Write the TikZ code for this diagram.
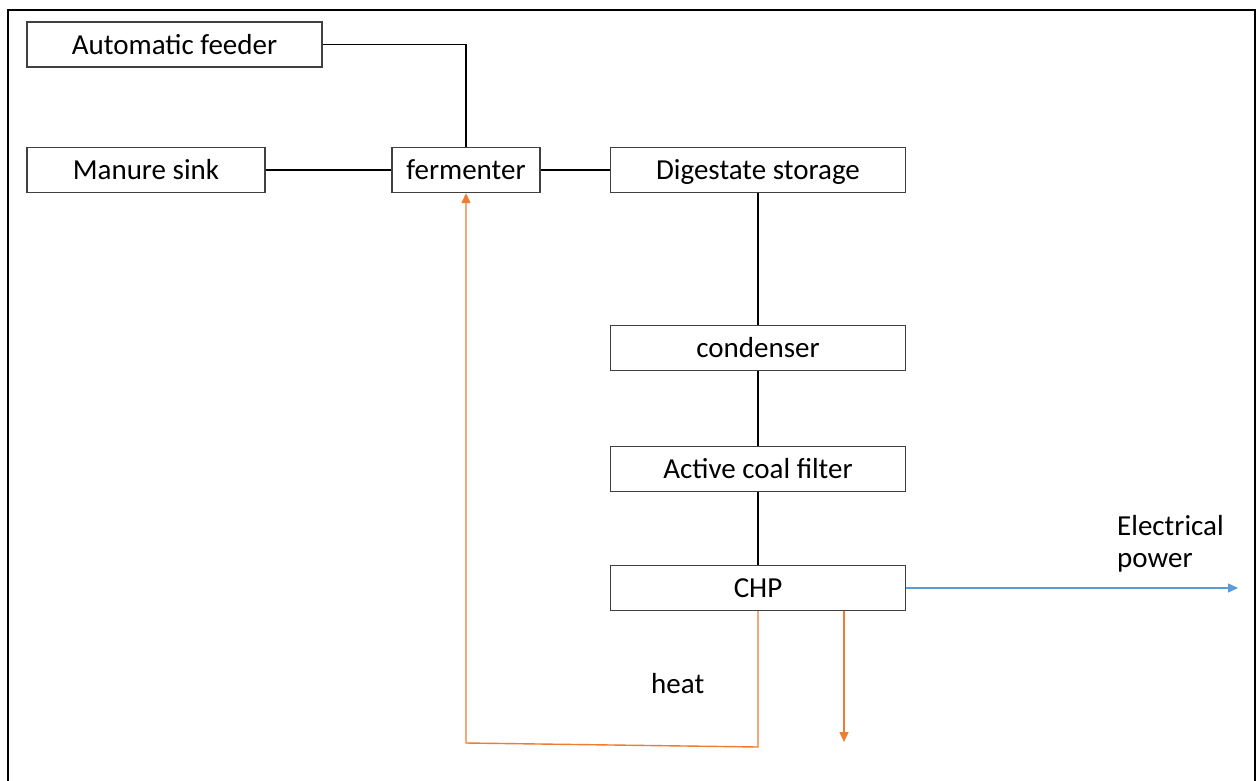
\documentclass[tikz,border=0pt]{standalone}
\usepackage{fontspec}
\setmainfont{Carlito}
\usetikzlibrary{arrows.meta}
\definecolor{boxline}{RGB}{64,64,64}
\definecolor{heatorange}{RGB}{237,125,49}
\definecolor{elecblue}{RGB}{91,155,213}
\tikzset{
  procbox/.style={draw=boxline, line width=1.4pt, fill=white, inner sep=0pt,
    minimum height=45pt, text height=21pt, text depth=2pt,
    font=\fontsize{29}{34}\selectfont, text=black},
  conn/.style={draw=black, line width=1.2pt},
  heatline/.style={draw=heatorange, line width=1.4pt},
  elecline/.style={draw=elecblue, line width=1.4pt},
  tip/.style={-{Triangle[length=10pt,width=9pt]}},
  lbl/.style={inner sep=0pt, font=\fontsize{29}{32}\selectfont, text=black}
}
\begin{document}
\begin{tikzpicture}[x=1pt,y=-1pt]
\useasboundingbox (0,0) rectangle (1258,780);
\fill[white] (0,0) rectangle (1258,780);
% frame
\draw[black, line width=2pt] (8,782) -- (8,10) -- (1255,10) -- (1255,782);
% boxes
\node[procbox, minimum width=295pt] (feeder) at (174.5,44.5) {Automatic feeder};
\node[procbox, minimum width=238pt] (manure) at (146,170) {Manure sink};
\node[procbox, minimum width=148pt] (ferm) at (466,170) {fermenter};
\node[procbox, minimum width=295pt] (dig) at (758,170) {Digestate storage};
\node[procbox, minimum width=295pt] (cond) at (758,348) {condenser};
\node[procbox, minimum width=295pt] (acf) at (758,469) {Active coal filter};
\node[procbox, minimum width=295pt] (chp) at (758,588) {CHP};
% black connectors
\draw[conn] (feeder.east) -| (ferm.north);
\draw[conn] (manure.east) -- (ferm.west);
\draw[conn] (ferm.east) -- (dig.west);
\draw[conn] (dig.south) -- (cond.north);
\draw[conn] (cond.south) -- (acf.north);
\draw[conn] (acf.south) -- (chp.north);
% electrical power
\coordinate (etip) at (1238,588);
\draw[elecline, tip] (chp.east) -- (etip);
\node[lbl, anchor=base west, align=left] (elabel) at (1117,567) {Electrical\\power};
% heat
\coordinate (hr) at (758,747);
\coordinate (hl) at (466,743);
\draw[heatline, tip] (chp.south) -- (hr) -- (hl) -- (ferm.south);
\coordinate (hs) at (844,611);
\coordinate (ht) at (844,742);
\draw[heatline, tip] (hs) -- (ht);
\node[lbl, anchor=base west] (heatlbl) at (651,693) {heat};
\end{tikzpicture}
\end{document}
